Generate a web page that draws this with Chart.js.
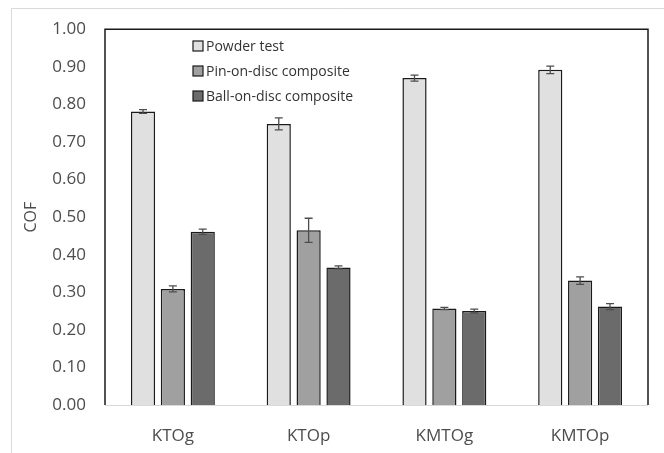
<!DOCTYPE html>
<html>
<head>
<meta charset="utf-8">
<script src="https://cdn.jsdelivr.net/npm/chart.js@4.4.1/dist/chart.umd.min.js"></script>
<style>
  html, body { margin: 0; padding: 0; background: #fff; }
  #wrap { width: 664px; height: 453px; }
</style>
</head>
<body>
<div id="wrap"><canvas id="graphCanvas" width="664" height="453"></canvas></div>
<script>
var categories = ['KTOg', 'KTOp', 'KMTOg', 'KMTOp'];
var powder = [0.781, 0.748, 0.870, 0.892];
var powderErr = [0.005, 0.016, 0.008, 0.010];
var pin = [0.309, 0.465, 0.257, 0.331];
var pinErr = [0.008, 0.032, 0.003, 0.010];
var ball = [0.461, 0.366, 0.250, 0.262];
var ballErr = [0.007, 0.004, 0.005, 0.008];
var yTicks = [0, 0.1, 0.2, 0.3, 0.4, 0.5, 0.6, 0.7, 0.8, 0.9, 1.0];

var fontFamily = '"Open Sans", "Noto Sans", sans-serif';
var errors = [powderErr, pinErr, ballErr];

// frame around the picture and the plot area
var framePlugin = {
    id: 'frame',
    beforeDraw: function (chart) {
        var ctx = chart.ctx;
        ctx.save();
        ctx.strokeStyle = '#d9d9d9';
        ctx.lineWidth = 1;
        ctx.beginPath();
        ctx.moveTo(11.5, 453);
        ctx.lineTo(11.5, 8.5);
        ctx.lineTo(664, 8.5);
        ctx.stroke();
        ctx.restore();
    },
    afterDraw: function (chart) {
        var a = chart.chartArea;
        var ctx = chart.ctx;
        ctx.save();
        ctx.strokeStyle = '#d9d9d9';
        ctx.lineWidth = 1;
        ctx.beginPath();
        ctx.moveTo(a.left, a.bottom + 0.5);
        ctx.lineTo(a.right, a.bottom + 0.5);
        ctx.stroke();
        ctx.strokeStyle = '#1a1a1a';
        ctx.lineWidth = 1.5;
        ctx.beginPath();
        ctx.moveTo(a.left, a.bottom);
        ctx.lineTo(a.left, a.top);
        ctx.lineTo(a.right, a.top);
        ctx.lineTo(a.right, a.bottom);
        ctx.stroke();
        ctx.restore();
    }
};

// error bars from the error arrays
var errorPlugin = {
    id: 'errorBars',
    afterDatasetsDraw: function (chart) {
        var ctx = chart.ctx;
        var yScale = chart.scales.y;
        ctx.save();
        ctx.strokeStyle = '#4d4d4d';
        ctx.lineWidth = 1.3;
        chart.data.datasets.forEach(function (ds, di) {
            var meta = chart.getDatasetMeta(di);
            meta.data.forEach(function (bar, i) {
                var v = ds.data[i];
                var e = errors[di][i];
                var yTop = yScale.getPixelForValue(v + e);
                var yBot = yScale.getPixelForValue(v - e);
                var x = bar.x;
                ctx.beginPath();
                ctx.moveTo(x, yTop);
                ctx.lineTo(x, yBot);
                ctx.moveTo(x - 4, yTop);
                ctx.lineTo(x + 4, yTop);
                ctx.moveTo(x - 4, yBot);
                ctx.lineTo(x + 4, yBot);
                ctx.stroke();
            });
        });
        ctx.restore();
    }
};

// vertical legend inside the plot area
var legendPlugin = {
    id: 'innerLegend',
    afterDraw: function (chart) {
        var ctx = chart.ctx;
        ctx.save();
        ctx.font = '14px ' + fontFamily;
        ctx.textBaseline = 'middle';
        chart.data.datasets.forEach(function (ds, i) {
            var y = 46 + i * 25;
            ctx.fillStyle = ds.backgroundColor;
            ctx.fillRect(193, y - 5, 10, 10);
            ctx.strokeStyle = '#1a1a1a';
            ctx.lineWidth = 1.2;
            ctx.strokeRect(193, y - 5, 10, 10);
            ctx.fillStyle = '#333333';
            ctx.fillText(ds.label, 206, y + 1);
        });
        ctx.restore();
    }
};

var chartdata = {
    labels: categories,
    datasets: [
        {
            label: 'Powder test',
            backgroundColor: '#e0e0e0',
            borderColor: '#1a1a1a',
            borderWidth: 1.5,
            data: powder
        },
        {
            label: 'Pin-on-disc composite',
            backgroundColor: '#a0a0a0',
            borderColor: '#1a1a1a',
            borderWidth: 1.5,
            data: pin
        },
        {
            label: 'Ball-on-disc composite',
            backgroundColor: '#6b6b6b',
            borderColor: '#1a1a1a',
            borderWidth: 1.5,
            data: ball
        }
    ]
};

var barGraph = new Chart(document.getElementById('graphCanvas'), {
    type: 'bar',
    data: chartdata,
    plugins: [framePlugin, errorPlugin, legendPlugin],
    options: {
        responsive: false,
        animation: false,
        layout: { padding: { top: 29, right: 16, left: 0, bottom: 0 } },
        datasets: {
            bar: { categoryPercentage: 0.66, barPercentage: 0.81 }
        },
        plugins: {
            legend: { display: false },
            tooltip: { enabled: false }
        },
        scales: {
            x: {
                grid: { display: false, drawTicks: false },
                border: { display: false },
                ticks: {
                    color: '#4d4d4d',
                    padding: 21,
                    font: { family: fontFamily, size: 17 }
                },
                afterFit: function (scale) { scale.height = 48; }
            },
            y: {
                min: 0,
                max: 1,
                grid: { display: false, drawTicks: false },
                border: { display: false },
                afterBuildTicks: function (scale) {
                    scale.ticks = yTicks.map(function (v) { return { value: v }; });
                },
                ticks: {
                    color: '#4d4d4d',
                    padding: 19,
                    font: { family: fontFamily, size: 17 }
                    ,
                    callback: function (v) { return Number(v).toFixed(2); }
                },
                title: {
                    display: true,
                    text: 'COF',
                    color: '#4d4d4d',
                    padding: { top: 22, bottom: 0 },
                    font: { family: fontFamily, size: 16 }
                },
                afterFit: function (scale) { scale.width = 105; }
            }
        }
    }
});
</script>
</body>
</html>
